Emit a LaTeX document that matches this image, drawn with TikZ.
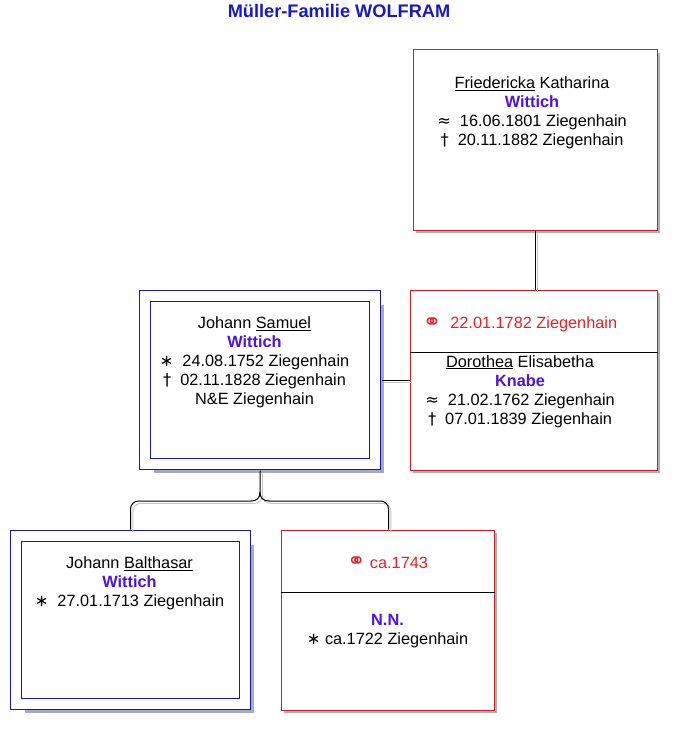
\documentclass[tikz,border=0pt]{standalone}
\usepackage{fontspec}
\setmainfont{Liberation Sans}
\newfontfamily\symfont{DejaVu Sans}
\usetikzlibrary{positioning,shadows}
\definecolor{boxred}{RGB}{200,32,40}
\definecolor{boxblue}{RGB}{26,26,160}
\definecolor{titleblue}{RGB}{24,24,200}
\definecolor{namepurple}{RGB}{75,20,224}
\definecolor{datered}{RGB}{232,32,42}
\definecolor{shadowblue}{RGB}{168,168,200}
\definecolor{shadowgray}{RGB}{176,176,176}
\tikzset{
female/.style={draw=boxred, fill=white, line width=1pt, inner sep=0pt,
  general shadow={fill=shadowgray, shadow xshift=3pt, shadow yshift=-3pt}},
male/.style={draw=boxblue, double=white, double distance=10pt, fill=white, line width=1pt, inner sep=0pt,
  general shadow={fill=shadowblue, shadow xshift=9pt, shadow yshift=-9pt}},
info/.style={inner sep=0pt, align=center, font=\fontsize{16.3}{19}\selectfont},
link/.style={draw=black, line width=1pt},
linkshadow/.style={draw=gray!45, line width=1pt, transform canvas={xshift=2.4pt, yshift=-2.4pt}}
}
\newcommand{\sy}[1]{{\symfont #1}}
\newcommand{\rings}{\smash{\symfont\fontsize{22}{19}\selectfont\raisebox{-0.5pt}{⚭}}}
\newcommand{\surname}[1]{{\bfseries\color{namepurple}#1}}

\begin{document}
\begin{tikzpicture}[x=1pt, y=-1pt]
\useasboundingbox (0,0) rectangle (677,730);

\node[font=\fontsize{18.2}{20}\bfseries, text=titleblue] (title) at (339,11) {Müller-Familie WOLFRAM};

\node[female, minimum width=244pt, minimum height=180pt] (friedericka) at (535,140) {};
\node[female, minimum width=247pt, minimum height=180pt] (dorothea) at (533.5,380) {};
\node[male, minimum width=230pt, minimum height=168pt] (samuel) at (260,380) {};
\node[male, minimum width=229pt, minimum height=168pt] (balthasar) at (130.5,620) {};
\node[female, minimum width=213pt, minimum height=180pt] (nn) at (387.5,620) {};

\draw (dorothea.west |- 0,352) -- (dorothea.east |- 0,352);
\draw (nn.west |- 0,592) -- (nn.east |- 0,592);

\node[info, below=27.3pt of friedericka.north, xshift=-3pt] (friedericka text)
  {\underline{Friedericka} Katharina\\ \surname{Wittich}\\ \sy{≈}\ \ 16.06.1801 Ziegenhain\\ \sy{†}\ \ 20.11.1882 Ziegenhain};
\node[info, below=21.3pt of samuel.north, xshift=-5.5pt] (samuel text)
  {Johann \underline{Samuel}\\ \surname{Wittich}\\ \sy{∗}\ \ 24.08.1752 Ziegenhain\\ \sy{†}\ \ 02.11.1828 Ziegenhain\\ N\&E Ziegenhain};
\node[info, below=27.3pt of dorothea.north, xshift=-13.5pt, text=datered] (wedding1)
  {\rings\ \ 22.01.1782 Ziegenhain};
\node[info, below=65.5pt of dorothea.north, xshift=-13.5pt] (dorothea text)
  {\underline{Dorothea} Elisabetha\\ \surname{Knabe}\\ \sy{≈}\ \ 21.02.1762 Ziegenhain\\ \sy{†}\ \ 07.01.1839 Ziegenhain};
\node[info, below=21.3pt of balthasar.north, xshift=-1pt] (balthasar text)
  {Johann \underline{Balthasar}\\ \surname{Wittich}\\ \sy{∗}\ \ 27.01.1713 Ziegenhain};
\node[info, below=27.3pt of nn.north, text=datered] (wedding2)
  {\rings\ ca.1743};
\node[info, below=84.3pt of nn.north] (nn text)
  {\surname{N.N.}\\ \sy{∗} ca.1722 Ziegenhain};

\coordinate (fork) at (260,501);
\foreach \sty in {linkshadow,link}{
  \draw[\sty] (friedericka.south) -- (friedericka.south |- dorothea.north);
  \draw[\sty] ([xshift=6pt]samuel.east) -- (dorothea.west);
  \draw[\sty] ([yshift=-6pt]samuel.south) -- (260,492) .. controls (260,498) and (257,501) .. (251,501)
    [rounded corners=8pt] -- (balthasar.north |- fork) -- ([yshift=6pt]balthasar.north);
  \draw[\sty] (260,492) .. controls (260,498) and (263,501) .. (269,501)
    [rounded corners=8pt] -- ([xshift=1pt]nn.north |- fork) -- ([xshift=1pt]nn.north);
}
\end{tikzpicture}
\end{document}
